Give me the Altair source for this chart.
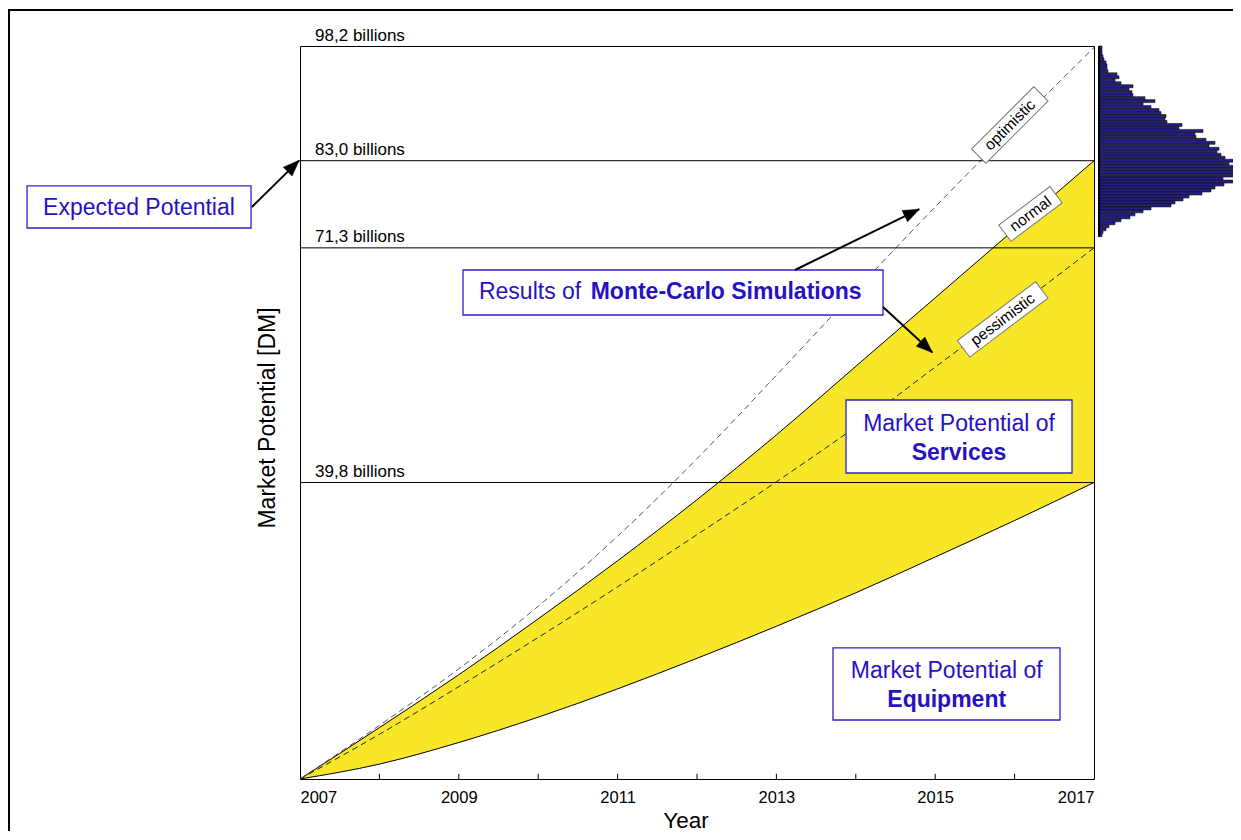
import altair as alt
import pandas as pd

# ---------------- data ----------------
years = list(range(2007, 2018))
equipment = [0.0, 2.0, 4.9, 8.3, 12.1, 16.2, 20.5, 25.0, 29.8, 34.7, 39.8]
normal = [0.0, 6.9, 14.0, 21.5, 29.3, 37.5, 46.2, 55.4, 64.6, 73.8, 83.0]
optimistic = [0.0, 7.2, 14.8, 23.2, 32.6, 43.0, 54.2, 65.6, 76.8, 87.6, 98.2]
pessimistic = [0.0, 6.0, 12.4, 19.0, 25.8, 32.8, 39.9, 47.3, 55.3, 63.2, 71.3]

levels = [98.2, 83.0, 71.3, 39.8]
rule_levels = [83.0, 71.3, 39.8]
label_years = [2007, 2009, 2011, 2013, 2015, 2017]
minor_years = list(range(2008, 2017))

# Monte-Carlo histogram (bar lengths, from top bin 98.4 downwards, bin width 0.4)
hist_counts = [3, 3, 3, 4, 5, 7, 8, 8, 9, 18, 20, 16, 22, 34, 30, 33, 34, 46,
               56, 44, 52, 60, 62, 67, 66, 68, 83, 80, 104, 96, 97, 107, 116,
               110, 120, 118, 122, 126, 134, 130, 137, 138, 136, 140, 124, 136,
               125, 116, 112, 103, 90, 84, 76, 72, 52, 44, 36, 31, 22, 16, 10,
               7, 4, 3]
hist_top = 98.4
hist_step = 0.4

curve_labels = ["optimistic", "normal", "pessimistic"]
curve_label_year = [2015.94, 2016.20, 2015.85]
curve_label_val = [87.8, 75.85, 61.7]
curve_label_angle = [315, 323, 323]
curve_label_box = ["M-1,-0.23L1,-0.23L1,0.23L-1,0.23Z",
                   "M-1,-0.32L1,-0.32L1,0.32L-1,0.32Z",
                   "M-1,-0.21L1,-0.21L1,0.21L-1,0.21Z"]
curve_label_size = [7744, 4096, 9604]

BLUE = "#2612c2"
BLUE_BORDER = "#3020cc"
FONT = "Liberation Sans"

X = alt.Scale(domain=[2007, 2017], nice=False, zero=False)
Y = alt.Scale(domain=[0, 98.4], nice=False, zero=False)

df = pd.DataFrame({"year": years, "equipment": equipment, "normal": normal,
                   "optimistic": optimistic, "pessimistic": pessimistic})

# ---------------- main layers ----------------
area = alt.Chart(df).mark_area(color="#f8e628", opacity=1, interpolate="monotone").encode(
    x=alt.X("year:Q", scale=X,
            axis=alt.Axis(values=label_years, format="d", ticks=False, domain=False, grid=False,
                          labelFontSize=16.5, labelColor="black", labelPadding=10, labelFont=FONT,
                          title="Year", titleFontSize=22.5, titleFontWeight="normal",
                          titleColor="black", titleFont=FONT, titleX=385.5, titleY=41,
                          titleBaseline="middle", titleAlign="center")),
    y=alt.Y("equipment:Q", scale=Y,
            axis=alt.Axis(labels=False, ticks=False, domain=False, grid=False,
                          title="Market Potential [DM]", titleFontSize=23, titleFontWeight="normal",
                          titleColor="black", titleFont=FONT, titleX=-33, titleY=371.5,
                          titleAngle=270, titleAlign="center", titleBaseline="middle")),
    y2="normal:Q",
)

def curve(field, dash=None, color="black"):
    kw = dict(color=color, strokeWidth=1, interpolate="monotone")
    if dash:
        kw["strokeDash"] = dash
    return alt.Chart(df).mark_line(**kw).encode(x=alt.X("year:Q", scale=X), y=alt.Y(f"{field}:Q", scale=Y))

eq_line = curve("equipment")
norm_line = curve("normal")
opt_line = curve("optimistic", dash=[6, 4], color="#555555")
pess_line = curve("pessimistic", dash=[6, 4], color="#222222")

rules_df = pd.DataFrame({"level": rule_levels})
level_rules = alt.Chart(rules_df).mark_rule(color="black", strokeWidth=1).encode(
    x=alt.datum(2007), x2=alt.datum(2017), y=alt.Y("level:Q", scale=Y))

lab_df = pd.DataFrame({"level": levels,
                       "label": [f"{v:.1f}".replace(".", ",") + " billions" for v in levels]})
level_text = alt.Chart(lab_df).mark_text(align="left", baseline="alphabetic", dy=-6,
                                         fontSize=17, font=FONT, color="black").encode(
    x=alt.datum(2007.19), y=alt.Y("level:Q", scale=Y), text="label:N")

ticks_df = pd.DataFrame({"year": minor_years})
tick_marks = alt.Chart(ticks_df).mark_rule(color="black", strokeWidth=1).encode(
    x=alt.X("year:Q", scale=X), y=alt.datum(0), y2=alt.datum(0.7))

cl_df = pd.DataFrame({"year": curve_label_year, "val": curve_label_val, "text": curve_labels,
                      "angle": curve_label_angle, "path": curve_label_box, "size": curve_label_size})
cl_boxes = alt.Chart(cl_df).mark_point(filled=True, fill="white", stroke="#777777",
                                       strokeWidth=1, opacity=1).encode(
    x=alt.X("year:Q", scale=X), y=alt.Y("val:Q", scale=Y),
    shape=alt.Shape("path:N", scale=None), size=alt.Size("size:Q", scale=None),
    angle=alt.Angle("angle:Q", scale=None))
cl_text = alt.Chart(cl_df).mark_text(fontSize=15.5, font=FONT, color="black",
                                     align="center", baseline="middle").encode(
    x=alt.X("year:Q", scale=X), y=alt.Y("val:Q", scale=Y), text="text:N",
    angle=alt.Angle("angle:Q", scale=None))

# annotation boxes
box_df = pd.DataFrame({"x1": [2003.562, 2009.053, 2013.877, 2013.713],
                       "x2": [2006.383, 2014.343, 2016.723, 2016.572],
                       "y1": [79.61, 68.33, 50.88, 17.59],
                       "y2": [73.97, 62.29, 41.08, 7.92]})
boxes = alt.Chart(box_df).mark_rect(fill="white", stroke=BLUE_BORDER, strokeWidth=1.3).encode(
    x=alt.X("x1:Q", scale=X), x2="x2:Q", y=alt.Y("y1:Q", scale=Y), y2="y2:Q")

ctext_df = pd.DataFrame({"text": ["Expected Potential", "Market Potential of", "Market Potential of"],
                         "x": [2004.972, 2015.300, 2015.145], "y": [76.65, 47.72, 14.50]})
ctext = alt.Chart(ctext_df).mark_text(fontSize=23, font=FONT, color=BLUE, align="center",
                                      baseline="middle").encode(
    x=alt.X("x:Q", scale=X), y=alt.Y("y:Q", scale=Y), text="text:N")

btext_df = pd.DataFrame({"text": ["Services", "Equipment"],
                         "x": [2015.300, 2015.145], "y": [43.76, 10.61]})
btext = alt.Chart(btext_df).mark_text(fontSize=23, font=FONT, color=BLUE, fontWeight="bold",
                                      align="center", baseline="middle").encode(
    x=alt.X("x:Q", scale=X), y=alt.Y("y:Q", scale=Y), text="text:N")

res1 = alt.Chart(pd.DataFrame({"text": ["Results of"], "x": [2009.254], "y": [65.38]})).mark_text(
    fontSize=23, font=FONT, color=BLUE, align="left", baseline="middle").encode(
    x=alt.X("x:Q", scale=X), y=alt.Y("y:Q", scale=Y), text="text:N")
res2 = alt.Chart(pd.DataFrame({"text": ["Monte-Carlo Simulations"], "x": [2010.661], "y": [65.38]})).mark_text(
    fontSize=23, font=FONT, color=BLUE, fontWeight="bold", align="left", baseline="middle").encode(
    x=alt.X("x:Q", scale=X), y=alt.Y("y:Q", scale=Y), text="text:N")

# arrows
arr_df = pd.DataFrame({"x1": [2006.395, 2013.234, 2014.343],
                       "y1": [76.79, 68.33, 63.36],
                       "x2": [2006.99, 2014.80, 2014.965],
                       "y2": [83.05, 76.50, 57.25],
                       "angle": [45.6, 64.0, 132.6]})
arr_lines = alt.Chart(arr_df).mark_rule(color="black", strokeWidth=2).encode(
    x=alt.X("x1:Q", scale=X), y=alt.Y("y1:Q", scale=Y), x2="x2:Q", y2="y2:Q")
arr_heads = alt.Chart(arr_df).mark_point(filled=True, fill="black", stroke="black", strokeWidth=0.5,
                                         opacity=1, shape="M0,0L-0.7,1.8L0.7,1.8Z", size=320).encode(
    x=alt.X("x2:Q", scale=X), y=alt.Y("y2:Q", scale=Y), angle=alt.Angle("angle:Q", scale=None))

# outer frame of the figure
one = alt.Data(values=[{}])
frame_left = alt.Chart(one).mark_rule(color="black", strokeWidth=2).encode(
    x=alt.value(-291), y=alt.value(-36), y2=alt.value(900))
frame_top = alt.Chart(one).mark_rule(color="black", strokeWidth=2).encode(
    x=alt.value(-292), x2=alt.value(1000), y=alt.value(-36))

main = alt.layer(area, eq_line, norm_line, pess_line, opt_line, level_rules, level_text,
                 tick_marks, cl_boxes, cl_text, boxes, ctext, btext, res1, res2,
                 arr_lines, arr_heads, frame_left, frame_top)

# ---------------- histogram ----------------
n = len(hist_counts)
hist_df = pd.DataFrame({"hi": [hist_top - hist_step * i for i in range(n)],
                        "lo": [hist_top - hist_step * (i + 1) for i in range(n)],
                        "count": hist_counts, "base": [0] * n})
HS = alt.Scale(domain=[0, 140], range=[799, 939])
hist_bars = alt.Chart(hist_df).mark_rect(fill="#24207f", stroke="#111111", strokeWidth=0.6).encode(
    x=alt.X("base:Q", scale=HS, axis=None), x2="count:Q",
    y=alt.Y("lo:Q", scale=Y, axis=None), y2="hi:Q")
hist_base = alt.Chart(pd.DataFrame({"base": [0], "lo": [hist_top - hist_step * n], "hi": [hist_top]})).mark_rule(
    color="black", strokeWidth=2).encode(
    x=alt.X("base:Q", scale=HS, axis=None), y=alt.Y("lo:Q", scale=Y, axis=None), y2="hi:Q")
hist = alt.layer(hist_bars, hist_base)

chart = alt.layer(main, hist).resolve_scale(x="independent").resolve_axis(
    x="independent", y="independent").properties(
    width=794, height=733,
    padding={"left": 292, "top": 38, "right": 139, "bottom": 52},
    autosize="none",
).configure(font=FONT, background="white").configure_view(stroke="black", strokeWidth=1)

chart.save("out.html", embed_options={"renderer": "svg", "actions": False})
